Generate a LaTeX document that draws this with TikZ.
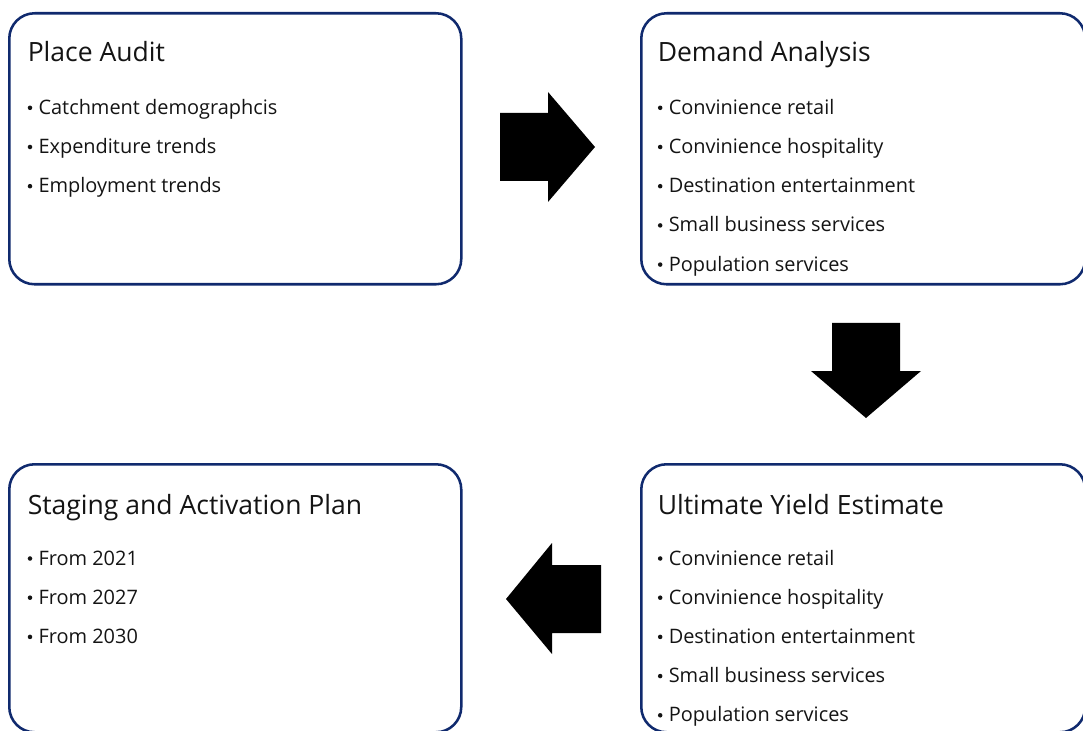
\documentclass[tikz,border=0pt]{standalone}
\usepackage{fontspec}
\setmainfont{Open Sans}
\definecolor{navy}{RGB}{16,42,110}
\definecolor{ink}{RGB}{20,20,20}

\begin{document}
\begin{tikzpicture}[x=0.75pt,y=-0.75pt,
  panel/.style={draw=navy, line width=1.9pt, rounded corners=19pt,
    fill=white, anchor=north west, inner sep=0pt},
  heading/.style={anchor=base west, inner sep=0pt, text=ink,
    font=\fontsize{19.9}{24}\selectfont},
  item/.style={anchor=base west, inner sep=0pt, text=ink,
    font=\fontsize{14.95}{18}\selectfont},
  blockarrow/.style={fill=black, draw=none}]

\useasboundingbox (0,0) rectangle (1083,731);
\clip (0,0) rectangle (1083,731);

% ---- panels ----
\node[panel, minimum width=339pt, minimum height=203.25pt] (audit) at (8,12) {};
\node[panel, minimum width=333pt, minimum height=203.25pt] (demand) at (640,12) {};
\node[panel, minimum width=339pt, minimum height=201pt] (staging) at (8,463) {};
\node[panel, minimum width=333pt, minimum height=201pt] (yield) at (640,463) {};

% ---- headings ----
\node[heading] (auditT) at (27.5,62) {Place Audit};
\node[heading] (demandT) at (657.5,62) {Demand Analysis};
\node[heading] (stagingT) at (27.5,514) {Staging and Activation Plan};
\node[heading] (yieldT) at (657.5,514) {Ultimate Yield Estimate};

% ---- bullet lists ----
\newcommand{\bulletlist}[4]{%
  \foreach \txt [count=\k] in {#4} {
    \pgfmathsetmacro{\yy}{#3+(\k-1)*39.2}
    \fill[ink] (#1-8.3,\yy-6.5) circle (1.7pt);
    \node[item] (#2\k) at (#1,\yy) {\txt};
  }}

\bulletlist{38.3}{auditI}{114.3}{Catchment demographcis, Expenditure trends, Employment trends}
\bulletlist{668.5}{demandI}{114.3}{Convinience retail, Convinience hospitality, Destination entertainment, Small business services, Population services}
\bulletlist{38.3}{stagingI}{565}{From 2021, From 2027, From 2030}
\bulletlist{668.5}{yieldI}{565}{Convinience retail, Convinience hospitality, Destination entertainment, Small business services, Population services}

% ---- block arrows between panels ----
\fill[blockarrow] (500,113) -- (548,113) -- (548,92) -- (595,147)
  -- (548,202) -- (548,181) -- (500,181) -- cycle;
\fill[blockarrow] (832,323) -- (900,323) -- (900,371) -- (921,371)
  -- (866,418) -- (811,371) -- (832,371) -- cycle;
\fill[blockarrow] (601,565) -- (552,565) -- (552,543) -- (506,599)
  -- (552,654) -- (552,633) -- (601,633) -- cycle;

\end{tikzpicture}
\end{document}
